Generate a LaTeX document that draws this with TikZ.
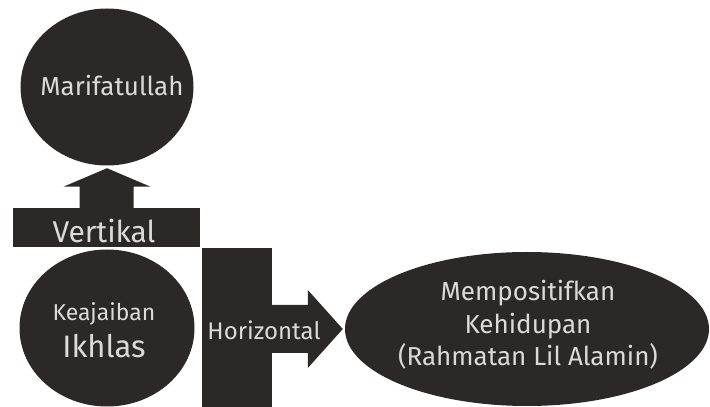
\documentclass[tikz,border=0pt]{standalone}
\usepackage{fontspec}
\setmainfont{Fira Sans}
\usetikzlibrary{positioning,calc,shapes.geometric}
\definecolor{ink900}{HTML}{2C2827}
\definecolor{ink100}{HTML}{DDD9D4}
\newcommand{\fsz}[1]{\fontsize{#1}{1.25\dimexpr#1pt\relax}\selectfont}
\tikzset{
  blob/.style ={ellipse, fill=ink900, inner sep=0pt, align=center,
                text=ink100},
  bar/.style  ={rectangle, fill=ink900, inner sep=0pt},
  blk/.style  ={fill=ink900},
  lbl/.style  ={text=ink100, inner sep=0pt, align=center}
}
\begin{document}
\begin{tikzpicture}[x=1pt,y=1pt]
\useasboundingbox (0,0) rectangle (710,407);
\node[blob, minimum width=173pt, minimum height=157pt] (marif) at (107,320) {};
\node[bar, minimum width=187pt, minimum height=39pt] (vert) at (106.5,179.5) {};
\node[blob, minimum width=175pt, minimum height=157pt] (ikhlas) at (107,79) {};
\node[bar, minimum width=70pt, minimum height=159pt] (horiz) at (237,79.5) {};
\node[blob, minimum width=364pt, minimum height=154pt] (rahmat) at (527,78) {};

% block arrows
\fill[blk] ($(vert.north)+(-27,0)$) |- ($(marif.south)+(-43.5,-21)$)
  -- ($(marif.south)+(0,-2.5)$) -- ($(marif.south)+(43.5,-21)$)
  -| ($(vert.north)+(27,0)$) -- cycle;
\fill[blk] ($(horiz.east|-rahmat.west)+(0,24)$)
  -- ($(rahmat.west)+(-37,24)$) -- ($(rahmat.west)+(-37,39)$)
  -- ($(rahmat.west)+(-2,0)$) -- ($(rahmat.west)+(-37,-39)$)
  -- ($(rahmat.west)+(-37,-24)$) -- ($(horiz.east|-rahmat.west)+(0,-24)$)
  -- cycle;

% labels
\node[lbl, font=\fsz{26}] (mariflbl) at (112,321) {Marifatullah};
\node[lbl, font=\fsz{30}] (vertlbl) at (104,176) {Vertikal};
\node[lbl] (ikhlaslbl) at (104,77)
  {{\fsz{23}Keajaiban}\\[8pt] {\fsz{31}Ikhlas}};
\node[lbl, font=\fsz{24}] (horizlbl) at (264,77) {Horizontal};
\node[lbl, font=\fsz{26}] (rahmatlbl) at (528,82)
  {Mempositifkan\\ Kehidupan\\ (Rahmatan Lil Alamin)};
\end{tikzpicture}
\end{document}
